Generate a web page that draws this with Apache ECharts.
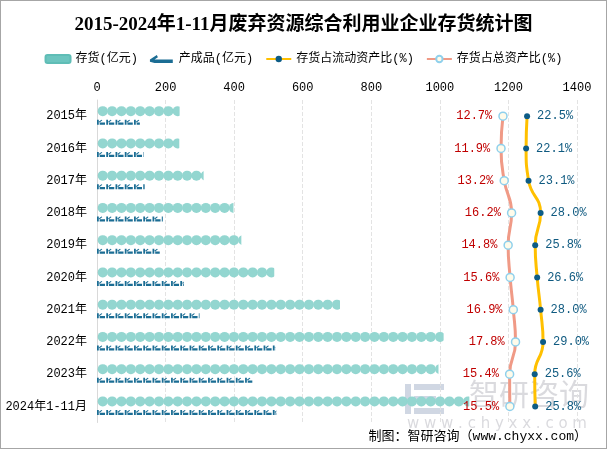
<!DOCTYPE html>
<html>
<head>
<meta charset="utf-8">
<script src="https://cdn.jsdelivr.net/npm/echarts@6/dist/echarts.min.js"></script>
<style>
html,body{margin:0;padding:0;background:#fff;}
#c{width:607px;height:449px;box-sizing:border-box;border:1px solid #a6a6a6;}
</style>
</head>
<body>
<div id="c"></div>
<script>
const categories = ['2015年','2016年','2017年','2018年','2019年','2020年','2021年','2022年','2023年','2024年1-11月'];
const inventory = [241, 240, 311, 398, 421, 517, 709, 1011, 996, 1086];
const finishedGoods = [125, 136, 139, 192, 183, 253, 299, 520, 453, 523];
const ratioCurrent = [22.5, 22.1, 23.1, 28.0, 25.8, 26.6, 28.0, 29.0, 25.6, 25.8];
const ratioTotal = [12.7, 11.9, 13.2, 16.2, 14.8, 15.6, 16.9, 17.8, 15.4, 15.5];
const xTicks = [0, 200, 400, 600, 800, 1000, 1200, 1400];

const FONT = "'Liberation Mono','Noto Sans CJK SC',monospace";
const chart = echarts.init(document.getElementById('c'), null, {renderer: 'canvas'});
const fgPath = 'path://M0,0 L2,0 L2,7 L0,7 Z M2,3 L5,0 L6,1 L3,4 Z M3,4 L9,4 L9,7 L3,7 Z';

chart.setOption({
  animation: false,
  backgroundColor: '#fff',
  title: {
    text: '2015-2024年1-11月废弃资源综合利用业企业存货统计图',
    left: 'center', top: 10,
    textStyle: {fontSize: 19, fontWeight: 'bold', color: '#000', fontFamily: "'Liberation Serif','Noto Sans CJK SC',serif"}
  },
  legend: {
    top: 47, left: 'center', itemWidth: 25, itemHeight: 8, itemGap: 12,
    textStyle: {fontSize: 12, color: '#000', fontFamily: FONT},
    data: [
      {name: '存货(亿元)', icon: 'roundRect', itemStyle: {color: '#6cc5bf'}},
      {name: '产成品(亿元)', icon: 'path://M0,4 L6,0 L7,2 L4,4 L20,4 L20,7 L4,7 L0,6 Z', itemStyle: {color: '#1b6d94'}},
      {name: '存货占流动资产比(%)'},
      {name: '存货占总资产比(%)'}
    ]
  },
  grid: {left: 96, right: 29, top: 99, bottom: 25.5, containLabel: false},
  xAxis: [{
    type: 'value', position: 'top', min: xTicks[0], max: xTicks[xTicks.length - 1], interval: 200,
    axisLine: {show: false}, axisTick: {show: false},
    axisLabel: {color: '#000', fontSize: 12, fontFamily: FONT, margin: 6, formatter: v => String(v)},
    splitLine: {show: true, lineStyle: {color: '#e3e3e3', type: 'dashed'}}
  }, {
    type: 'value', min: -152.4, max: 42.8, show: false, splitLine: {show: false}
  }],
  yAxis: {
    type: 'category', inverse: true, data: categories,
    axisLine: {show: true, lineStyle: {color: '#d9d9d9', width: 1}},
    axisTick: {show: false},
    axisLabel: {color: '#000', fontSize: 12, fontFamily: FONT, margin: 10}
  },
  series: [{
    name: '存货(亿元)', type: 'pictorialBar', xAxisIndex: 0,
    symbol: 'circle', symbolRepeat: 51, symbolClip: true, symbolBoundingData: 1400,
    symbolSize: [10, 10], symbolOffset: [0, -5], symbolPosition: 'start',
    itemStyle: {color: '#93d6d0', borderColor: '#5fbdb6', borderWidth: 1.5},
    data: inventory, z: 2
  }, {
    name: '产成品(亿元)', type: 'pictorialBar', xAxisIndex: 0,
    symbol: fgPath, symbolRepeat: 52, symbolClip: true, symbolBoundingData: 1400,
    symbolSize: [8, 5], symbolOffset: [0, 6], symbolPosition: 'start',
    itemStyle: {color: '#1b6d94'},
    data: finishedGoods, z: 2
  }, {
    name: '存货占流动资产比(%)', type: 'line', xAxisIndex: 1, smooth: true,
    symbol: 'circle', symbolSize: 6,
    lineStyle: {color: '#ffc000', width: 3},
    itemStyle: {color: '#0d5c86', borderWidth: 0},
    label: {show: true, position: 'right', distance: 7, color: '#0f5a80', fontSize: 12, fontFamily: FONT,
      formatter: p => (Array.isArray(p.value) ? p.value[0] : p.value).toFixed(1) + '%'},
    data: ratioCurrent, z: 5
  }, {
    name: '存货占总资产比(%)', type: 'line', xAxisIndex: 1, smooth: true,
    symbol: 'circle', symbolSize: 8, showAllSymbol: true,
    lineStyle: {color: '#f09a86', width: 3},
    itemStyle: {color: '#fffbea', borderColor: '#8fd0ec', borderWidth: 1.5},
    label: {show: true, position: 'left', distance: 6, color: '#c00000', fontSize: 12, fontFamily: FONT,
      formatter: p => (Array.isArray(p.value) ? p.value[0] : p.value).toFixed(1) + '%'},
    data: ratioTotal, z: 5
  }],
  graphic: [{
    type: 'group', left: 404, top: 378, silent: true, z: 100,
    children: [
      {type: 'rect', shape: {x: 0, y: 0, width: 6, height: 30}, style: {fill: 'rgba(120,140,175,0.35)'}},
      {type: 'rect', shape: {x: 9, y: 0, width: 30, height: 6}, style: {fill: 'rgba(120,140,175,0.35)'}},
      {type: 'rect', shape: {x: 9, y: 12, width: 22, height: 6}, style: {fill: 'rgba(120,140,175,0.35)'}},
      {type: 'rect', shape: {x: 9, y: 24, width: 30, height: 6}, style: {fill: 'rgba(120,140,175,0.35)'}},
      {type: 'text', x: 64, y: -5, style: {text: '智研咨询', fontSize: 30, fill: 'rgba(150,150,160,0.35)', fontFamily: "'Noto Sans CJK SC'"}},
      {type: 'text', x: 2, y: 33, style: {text: 'w w w . c h y x x . c o m', fontSize: 15, fill: 'rgba(150,150,160,0.35)', fontFamily: "'DejaVu Sans'"}}
    ]
  }, {
    type: 'text', right: 19, bottom: 5, z: 101,
    style: {text: '制图：智研咨询（www.chyxx.com）', fontSize: 13, fill: '#000', fontFamily: FONT}
  }]
});
</script>
</body>
</html>
